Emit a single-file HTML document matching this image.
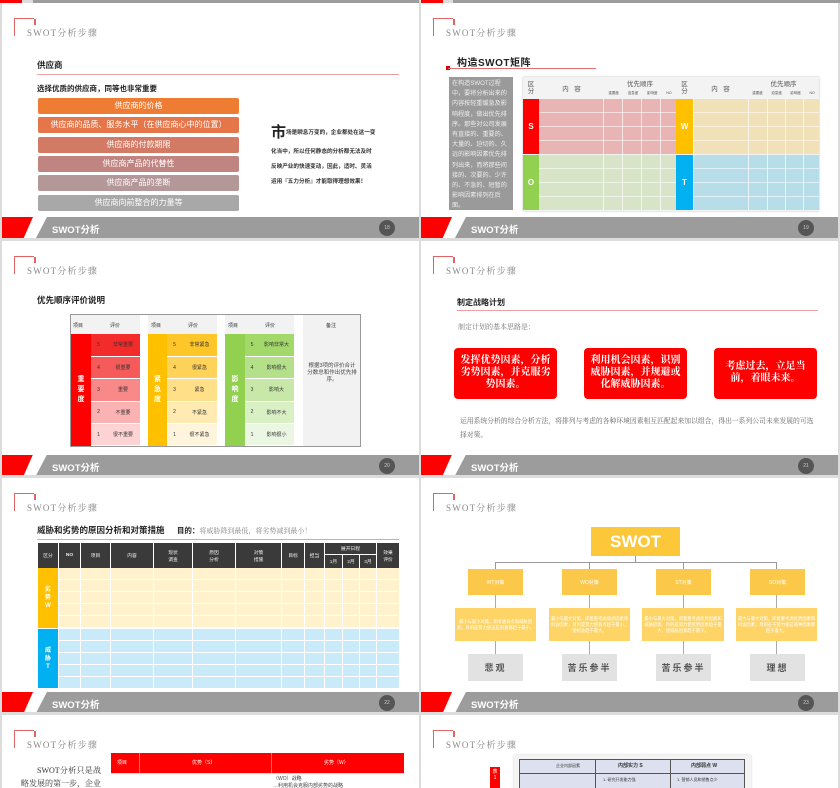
<!DOCTYPE html>
<html><head><meta charset="utf-8">
<style>
*{margin:0;padding:0;box-sizing:border-box}
html,body{width:840px;height:788px;overflow:hidden}
body{background:#dcdcdc;position:relative;font-family:"Liberation Sans","Noto Sans CJK SC",sans-serif}
.s{position:absolute;width:417px;height:238px;background:#fff;overflow:hidden}
.a{position:absolute}
.ft{position:absolute;left:0;top:217px;width:417px;height:21px}
.ft .r{position:absolute;left:0;top:0;width:31px;height:21px;background:#f00;clip-path:polygon(0 0,100% 0,70% 100%,0 100%)}
.ft .g{position:absolute;left:34px;top:0;width:383px;height:21px;background:#9c9c9c;clip-path:polygon(11px 0,100% 0,100% 100%,0 100%)}
.ft .g span{position:absolute;left:16px;top:5px;color:#fff;font-size:9.5px;font-weight:bold}
.ft .g i{position:absolute;left:343px;top:3px;width:16px;height:16px;border-radius:50%;background:#555;color:#ccc;font-size:5px;font-style:normal;text-align:center;line-height:16px}
.ft:after{content:"";position:absolute;left:0;top:21px;width:417px;height:3px;background:#ddd}
.hd{position:absolute;left:12px;top:18px;width:20px;height:18px;border-left:1.5px solid #e06464;border-top:1.5px solid #e06464}
.hd:after{content:"";position:absolute;right:-1.5px;top:0;width:1.5px;height:6px;background:#e06464}
.ht{position:absolute;left:25px;top:26px;font-size:9px;color:#888;letter-spacing:1.2px;font-family:"Liberation Serif","Noto Serif CJK SC",serif}
.b{font-weight:bold;color:#222}
.bar{position:absolute;left:36px;width:201px;height:16px;border-radius:2px;color:#fff;font-size:8px;text-align:center;line-height:16px}
.c{display:flex;align-items:center;justify-content:center;text-align:center}
</style></head><body>

<div class="a" style="left:0;top:0;width:22px;height:3px;background:#f00"></div>
<div class="a" style="left:33px;top:0;width:386px;height:3px;background:#9c9c9c"></div>
<div class="a" style="left:421px;top:0;width:22px;height:3px;background:#f00"></div>
<div class="a" style="left:453px;top:0;width:387px;height:3px;background:#9c9c9c"></div>

<!-- Slide 1 -->
<div class="s" style="left:2px;top:3px;height:235px">
 <div style="position:absolute;left:0;top:-3px;width:417px;height:238px">
 <div class="hd"></div><div class="ht">SWOT分析步骤</div>
 <div class="a b" style="left:35px;top:59px;font-size:8.5px">供应商</div>
 <div class="a" style="left:35px;top:74px;width:362px;height:1px;background:#e8a0a0"></div>
 <div class="a b" style="left:35px;top:83px;font-size:7.5px">选择优质的供应商，同等也非常重要</div>
 <div class="bar" style="top:98px;background:#ee7d33">供应商的价格</div>
 <div class="bar" style="top:117px;background:#e4764a">供应商的品质、服务水平（在供应商心中的位置）</div>
 <div class="bar" style="top:137px;background:#d27a64">供应商的付款期限</div>
 <div class="bar" style="top:156px;background:#c08580">供应商产品的代替性</div>
 <div class="bar" style="top:175px;background:#b49797">供应商产品的垄断</div>
 <div class="bar" style="top:195px;background:#a8a8a8">供应商向前整合的力量等</div>
 <div class="a b" style="left:269px;top:121px;font-size:15px">市</div>
 <div class="a b" style="left:284px;top:128px;font-size:5.6px;color:#333">场是瞬息万变的，企业都处在这一变</div>
 <div class="a b" style="left:269px;top:145px;font-size:5.6px;color:#333;line-height:15px">化当中，所以任何静态的分析都无法及时<br>反映产业的快速变动，因此，适时、灵活<br>运用『五力分析』才能取得理想效果！</div>
 <div class="ft"><div class="r"></div><div class="g"><span>SWOT分析</span><i>18</i></div></div>
 </div>
</div>

<!-- Slide 2 -->
<div class="s" style="left:421px;top:3px;height:235px">
 <div style="position:absolute;left:0;top:-3px;width:417px;height:238px">
 <div class="hd"></div><div class="ht">SWOT分析步骤</div>
 <div class="a b" style="left:36px;top:54px;font-size:10px;letter-spacing:.5px">构造SWOT矩阵</div>
 <div class="a" style="left:25px;top:66px;width:4px;height:4px;background:#d00"></div>
 <div class="a" style="left:27px;top:68px;width:148px;height:1px;background:#e07070"></div>
 <div class="a" style="left:28px;top:77px;width:64px;height:133px;background:#9a9a9a;color:#eee;font-size:6.1px;line-height:10.2px;padding:2px 3px;overflow:hidden">在构造SWOT过程中，要将分析出来的内容按轻重缓急及影响程度，做出优先排序。那些对公司发展有直接的、重要的、大量的、迫切的、久远的影响因素优先排列出来，而将那些间接的、次要的、少许的、不急的、短暂的影响因素排列在后面。</div>
 <div class="a" style="left:102px;top:77px;width:296px;height:134px;background:#f3f3f3;box-shadow:0 0 2px #bbb"></div>
 <div class="a c" style="left:102px;top:78px;width:16px;height:20px;font-size:6.5px;color:#555;line-height:7px">区<br>分</div>
 <div class="a c" style="left:118px;top:78px;width:65px;height:20px;font-size:6.5px;color:#555">内&nbsp;&nbsp;&nbsp;容</div>
 <div class="a" style="left:183px;top:78px;width:72px;font-size:6.5px;color:#555;text-align:center">优先顺序</div>
 <div class="a" style="left:183px;top:91px;width:72px;font-size:3.5px;color:#555;display:flex;justify-content:space-around">重要度<span>迫急度</span><span>影响度</span><span>NO</span></div>
 <div class="a c" style="left:255px;top:78px;width:17px;height:20px;font-size:6.5px;color:#555;line-height:7px">区<br>分</div>
 <div class="a c" style="left:272px;top:78px;width:55px;height:20px;font-size:6.5px;color:#555">内&nbsp;&nbsp;&nbsp;容</div>
 <div class="a" style="left:327px;top:78px;width:71px;font-size:6.5px;color:#555;text-align:center">优先顺序</div>
 <div class="a" style="left:327px;top:91px;width:71px;font-size:3.5px;color:#555;display:flex;justify-content:space-around">重要度<span>迫急度</span><span>影响度</span><span>NO</span></div>
 <div class="a c" style="left:102px;top:99px;width:16px;height:55px;background:#f00;color:#fff;font-weight:bold;font-size:8px">S</div>
 <div class="a" style="left:118px;top:99px;width:137px;height:55px;background:repeating-linear-gradient(#e8b4b4 0 13px,#f5dede 13px 14px)"></div>
 <div class="a c" style="left:255px;top:99px;width:17px;height:55px;background:#ffc000;color:#fff;font-weight:bold;font-size:8px">W</div>
 <div class="a" style="left:272px;top:99px;width:126px;height:55px;background:repeating-linear-gradient(#f1e1b9 0 13px,#faf1dc 13px 14px)"></div>
 <div class="a c" style="left:102px;top:155px;width:16px;height:55px;background:#92d050;color:#fff;font-weight:bold;font-size:8px">O</div>
 <div class="a" style="left:118px;top:155px;width:137px;height:55px;background:repeating-linear-gradient(#d8e4c8 0 13px,#eef3e7 13px 14px)"></div>
 <div class="a c" style="left:255px;top:155px;width:17px;height:55px;background:#00b0f0;color:#fff;font-weight:bold;font-size:8px">T</div>
 <div class="a" style="left:272px;top:155px;width:126px;height:55px;background:repeating-linear-gradient(#b7dde9 0 13px,#def0f5 13px 14px)"></div>
 <div class="a" style="left:118px;top:99px;width:280px;height:111px;background:linear-gradient(90deg,transparent 64px,#fff 64px 65px,transparent 65px 83px,#fff 83px 84px,transparent 84px 102px,#fff 102px 103px,transparent 103px 121px,#fff 121px 122px,transparent 122px 154px,#fff 154px 155px,transparent 155px 209px,#fff 209px 210px,transparent 210px 228px,#fff 228px 229px,transparent 229px 246px,#fff 246px 247px,transparent 247px 264px,#fff 264px 265px,transparent 265px);opacity:.7"></div>
 <div class="ft"><div class="r"></div><div class="g"><span>SWOT分析</span><i>19</i></div></div>
 </div>
</div>

<!-- Slide 3 -->
<div class="s" style="left:2px;top:241px;height:234px">
 <div style="position:absolute;left:0;top:-3.5px;width:417px;height:238px">
 <div class="hd"></div><div class="ht">SWOT分析步骤</div>
 <div class="a b" style="left:35px;top:56px;font-size:8.5px">优先顺序评价说明</div>
 <div class="a" style="left:68px;top:76px;width:291px;height:133px;border:1px solid #999;background:#fff"></div>
 <div class="a" style="left:69px;top:77px;width:289px;height:19px;background:#f2f2f2"></div>
 <div class="a" style="left:138px;top:77px;width:8px;height:131px;background:#fff"></div>
 <div class="a" style="left:215px;top:77px;width:8px;height:131px;background:#fff"></div>
 <div class="a" style="left:292px;top:77px;width:9px;height:131px;background:#fff"></div>
 <div class="a" style="left:301px;top:77px;width:57px;height:131px;background:#f2f2f2"></div>
 <div class="a" style="left:71px;top:84px;font-size:5px;color:#333">项目</div><div class="a" style="left:108px;top:84px;font-size:5px;color:#333">评价</div>
 <div class="a" style="left:149px;top:84px;font-size:5px;color:#333">项目</div><div class="a" style="left:186px;top:84px;font-size:5px;color:#333">评价</div>
 <div class="a" style="left:226px;top:84px;font-size:5px;color:#333">项目</div><div class="a" style="left:263px;top:84px;font-size:5px;color:#333">评价</div>
 <div class="a" style="left:324px;top:84px;font-size:5px;color:#333">备注</div>
 <div class="a c" style="left:304px;top:125px;width:52px;font-size:5.5px;color:#444;line-height:7px">根据3项的评价合计分数总和作出优先排序。</div>
 <div class="a c" style="left:69px;top:96px;width:20px;height:112px;background:#f00;color:#fff;font-size:7px;font-weight:bold;line-height:10px">重<br>要<br>度</div>
 <div class="a" style="left:89px;top:96px;width:49px;font-size:5px;color:#333">
  <div style="height:22.4px;background:#f42b2b;display:flex;align-items:center"><span style="width:15px;text-align:center">5</span><span style="flex:1;text-align:center">非常重要</span></div>
  <div style="height:22.4px;background:#f65a5a;display:flex;align-items:center;border-top:1px solid #fff"><span style="width:15px;text-align:center">4</span><span style="flex:1;text-align:center">很重要</span></div>
  <div style="height:22.4px;background:#f98888;display:flex;align-items:center;border-top:1px solid #fff"><span style="width:15px;text-align:center">3</span><span style="flex:1;text-align:center">重要</span></div>
  <div style="height:22.4px;background:#fbb2b2;display:flex;align-items:center;border-top:1px solid #fff"><span style="width:15px;text-align:center">2</span><span style="flex:1;text-align:center">不重要</span></div>
  <div style="height:22.4px;background:#fdd3d3;display:flex;align-items:center;border-top:1px solid #fff"><span style="width:15px;text-align:center">1</span><span style="flex:1;text-align:center">很不重要</span></div>
 </div>
 <div class="a c" style="left:146px;top:96px;width:19px;height:112px;background:#ffc000;color:#fff;font-size:7px;font-weight:bold;line-height:10px">紧<br>急<br>度</div>
 <div class="a" style="left:165px;top:96px;width:50px;font-size:5px;color:#333">
  <div style="height:22.4px;background:#ffc629;display:flex;align-items:center"><span style="width:15px;text-align:center">5</span><span style="flex:1;text-align:center">非常紧急</span></div>
  <div style="height:22.4px;background:#ffd35a;display:flex;align-items:center;border-top:1px solid #fff"><span style="width:15px;text-align:center">4</span><span style="flex:1;text-align:center">很紧急</span></div>
  <div style="height:22.4px;background:#ffdf88;display:flex;align-items:center;border-top:1px solid #fff"><span style="width:15px;text-align:center">3</span><span style="flex:1;text-align:center">紧急</span></div>
  <div style="height:22.4px;background:#ffeab2;display:flex;align-items:center;border-top:1px solid #fff"><span style="width:15px;text-align:center">2</span><span style="flex:1;text-align:center">不紧急</span></div>
  <div style="height:22.4px;background:#fff5dc;display:flex;align-items:center;border-top:1px solid #fff"><span style="width:15px;text-align:center">1</span><span style="flex:1;text-align:center">很不紧急</span></div>
 </div>
 <div class="a c" style="left:223px;top:96px;width:20px;height:112px;background:#92d050;color:#fff;font-size:7px;font-weight:bold;line-height:10px">影<br>响<br>度</div>
 <div class="a" style="left:243px;top:96px;width:49px;font-size:5px;color:#333">
  <div style="height:22.4px;background:#a3d86b;display:flex;align-items:center"><span style="width:14px;text-align:center">5</span><span style="flex:1;text-align:center">影响非常大</span></div>
  <div style="height:22.4px;background:#b5e08a;display:flex;align-items:center;border-top:1px solid #fff"><span style="width:14px;text-align:center">4</span><span style="flex:1;text-align:center">影响很大</span></div>
  <div style="height:22.4px;background:#c7e8a8;display:flex;align-items:center;border-top:1px solid #fff"><span style="width:14px;text-align:center">3</span><span style="flex:1;text-align:center">影响大</span></div>
  <div style="height:22.4px;background:#d9f0c5;display:flex;align-items:center;border-top:1px solid #fff"><span style="width:14px;text-align:center">2</span><span style="flex:1;text-align:center">影响不大</span></div>
  <div style="height:22.4px;background:#ebf7e2;display:flex;align-items:center;border-top:1px solid #fff"><span style="width:14px;text-align:center">1</span><span style="flex:1;text-align:center">影响很小</span></div>
 </div>
 <div class="ft"><div class="r"></div><div class="g"><span>SWOT分析</span><i>20</i></div></div>
 </div>
</div>

<!-- Slide 4 -->
<div class="s" style="left:421px;top:241px;height:234px">
 <div style="position:absolute;left:0;top:-3.5px;width:417px;height:238px">
 <div class="hd"></div><div class="ht">SWOT分析步骤</div>
 <div class="a b" style="left:36px;top:59px;font-size:8px">制定战略计划</div>
 <div class="a" style="left:36px;top:72px;width:361px;height:1px;background:#e8a0a0"></div>
 <div class="a" style="left:37px;top:84px;font-size:7px;color:#777;font-family:'Liberation Serif','Noto Serif CJK SC',serif">制定计划的基本思路是：</div>
 <div class="a c" style="left:33px;top:110px;width:103px;height:51px;background:#f00;border-radius:4px;color:#fff;font-size:10px;font-weight:bold;line-height:12px;padding:0 4px;font-family:'Liberation Serif','Noto Serif CJK SC',serif">发挥优势因素，分析劣势因素，并克服劣势因素。</div>
 <div class="a c" style="left:163px;top:110px;width:103px;height:51px;background:#f00;border-radius:4px;color:#fff;font-size:10px;font-weight:bold;line-height:12px;padding:0 4px;font-family:'Liberation Serif','Noto Serif CJK SC',serif">利用机会因素，识别威胁因素，并规避或化解威胁因素。</div>
 <div class="a c" style="left:293px;top:110px;width:103px;height:51px;background:#f00;border-radius:4px;color:#fff;font-size:10px;font-weight:bold;line-height:12px;padding:0 2px;font-family:'Liberation Serif','Noto Serif CJK SC',serif">考虑过去，立足当前，着眼未来。</div>
 <div class="a" style="left:39px;top:177px;width:360px;font-size:6.8px;color:#666;line-height:14px;font-family:'Liberation Serif','Noto Serif CJK SC',serif">运用系统分析的综合分析方法，将排列与考虑的各种环境因素相互匹配起来加以组合，得出一系列公司未来发展的可选择对策。</div>
 <div class="ft"><div class="r"></div><div class="g"><span>SWOT分析</span><i>21</i></div></div>
 </div>
</div>

<!-- Slide 5 -->
<div class="s" style="left:2px;top:478px;height:234px">
 <div style="position:absolute;left:0;top:-3px;width:417px;height:238px">
 <div class="hd"></div><div class="ht">SWOT分析步骤</div>
 <div class="a b" style="left:35px;top:49px;font-size:8.5px">威胁和劣势的原因分析和对策措施 <span style="margin-left:10px;font-size:7.5px">目的：</span><span style="font-weight:normal;color:#888;font-size:7px;font-family:'Liberation Serif','Noto Serif CJK SC',serif">将威胁降到最低，将劣势减到最小！</span></div>
 <div class="a" style="left:35px;top:64px;width:362px;height:1px;background:#e8a0a0"></div>
 <div class="a" style="left:36px;top:68px;width:361px;height:145px;background:#fff"></div>
 <div class="a" style="left:36px;top:93px;width:361px;height:60px;background:repeating-linear-gradient(#fff2cc 0 11px,#fff 11px 12px)"></div>
 <div class="a" style="left:36px;top:154px;width:361px;height:59px;background:repeating-linear-gradient(#c8eaf9 0 11px,#fff 11px 12px)"></div>
 <div class="a" style="left:36px;top:68px;width:361px;height:145px;background:linear-gradient(90deg,transparent 20px,#fff 20px 21px,transparent 21px 42px,#fff 42px 43px,transparent 43px 72px,#fff 72px 73px,transparent 73px 115px,#fff 115px 116px,transparent 116px 154px,#fff 154px 155px,transparent 155px 197px,#fff 197px 198px,transparent 198px 243px,#fff 243px 244px,transparent 244px 266px,#fff 266px 267px,transparent 267px 286px,#fff 286px 287px,transparent 287px 304px,#fff 304px 305px,transparent 305px 321px,#fff 321px 322px,transparent 322px 338px,#fff 338px 339px,transparent 339px)"></div>
 <div class="a" style="left:36px;top:68px;width:361px;height:25px;font-size:4.8px;color:#eee">
  <div class="a c" style="left:0;width:20px;height:25px;background:#3a3a3a">区分</div>
  <div class="a c" style="left:21px;width:21px;height:25px;background:#3a3a3a;font-weight:bold">NO</div>
  <div class="a c" style="left:43px;width:29px;height:25px;background:#3a3a3a">项目</div>
  <div class="a c" style="left:73px;width:42px;height:25px;background:#3a3a3a">内容</div>
  <div class="a c" style="left:116px;width:38px;height:25px;background:#3a3a3a">现状<br>调查</div>
  <div class="a c" style="left:155px;width:42px;height:25px;background:#3a3a3a">原因<br>分析</div>
  <div class="a c" style="left:198px;width:45px;height:25px;background:#3a3a3a">对策<br>措施</div>
  <div class="a c" style="left:244px;width:22px;height:25px;background:#3a3a3a">目标</div>
  <div class="a c" style="left:267px;width:19px;height:25px;background:#3a3a3a">担当</div>
  <div class="a c" style="left:287px;width:51px;height:11px;background:#3a3a3a">展开日程</div>
  <div class="a c" style="left:287px;top:12px;width:17px;height:13px;background:#3a3a3a">1月</div>
  <div class="a c" style="left:305px;top:12px;width:16px;height:13px;background:#3a3a3a">2月</div>
  <div class="a c" style="left:322px;top:12px;width:16px;height:13px;background:#3a3a3a">3月</div>
  <div class="a c" style="left:339px;width:22px;height:25px;background:#3a3a3a">效果<br>评价</div>
 </div>
 <div class="a c" style="left:36px;top:93px;width:20px;height:60px;background:#ffc000;color:#fff;font-size:6px;font-weight:bold;line-height:8px">劣<br>势<br>W</div>
 <div class="a c" style="left:36px;top:154px;width:20px;height:59px;background:#00b0f0;color:#fff;font-size:6px;font-weight:bold;line-height:8px">威<br>胁<br>T</div>
 <div class="ft"><div class="r"></div><div class="g"><span>SWOT分析</span><i>22</i></div></div>
 </div>
</div>

<!-- Slide 6 -->
<div class="s" style="left:421px;top:478px;height:234px">
 <div style="position:absolute;left:0;top:-3px;width:417px;height:238px">
 <div class="hd"></div><div class="ht">SWOT分析步骤</div>
 <div class="a c" style="left:170px;top:52px;width:89px;height:29px;background:#fcc83a;color:#fff;font-size:17px;font-weight:bold">SWOT</div>
 <div class="a" style="left:214px;top:81px;width:1px;height:6px;background:#999"></div>
 <div class="a" style="left:74px;top:87px;width:282px;height:1px;background:#999"></div>
 <div class="a" style="left:74px;top:87px;width:1px;height:7px;background:#999"></div>
 <div class="a" style="left:168px;top:87px;width:1px;height:7px;background:#999"></div>
 <div class="a" style="left:262px;top:87px;width:1px;height:7px;background:#999"></div>
 <div class="a" style="left:355px;top:87px;width:1px;height:7px;background:#999"></div>
 <div class="a c" style="left:47px;top:94px;width:55px;height:26px;background:#fcc84a;color:#fff;font-size:5px">WT对策</div>
 <div class="a c" style="left:141px;top:94px;width:55px;height:26px;background:#fcc84a;color:#fff;font-size:5px">WO对策</div>
 <div class="a c" style="left:235px;top:94px;width:55px;height:26px;background:#fcc84a;color:#fff;font-size:5px">ST对策</div>
 <div class="a c" style="left:329px;top:94px;width:55px;height:26px;background:#fcc84a;color:#fff;font-size:5px">SO对策</div>
 <div class="a" style="left:74px;top:120px;width:1px;height:59px;background:#aaa"></div>
 <div class="a" style="left:168px;top:120px;width:1px;height:59px;background:#aaa"></div>
 <div class="a" style="left:262px;top:120px;width:1px;height:59px;background:#aaa"></div>
 <div class="a" style="left:355px;top:120px;width:1px;height:59px;background:#aaa"></div>
 <div class="a c" style="left:34px;top:133px;width:81px;height:33px;background:#fed466;color:#fff;font-size:4.3px;line-height:6px;padding:1px">最小与最小对策，即考虑弱点和威胁因素，目的是努力使这些因素都趋于最小。</div>
 <div class="a c" style="left:128px;top:133px;width:81px;height:33px;background:#fed466;color:#fff;font-size:4.3px;line-height:6px;padding:1px">最小与最大对策，即着重考虑弱点因素和机会因素，目的是努力使弱点趋于最小，使机会趋于最大。</div>
 <div class="a c" style="left:221px;top:133px;width:82px;height:33px;background:#fed466;color:#fff;font-size:4.3px;line-height:6px;padding:1px">最小与最大对策，即着重考虑优势因素和威胁因素，目的是努力使优势因素趋于最大，使威胁因素趋于最小。</div>
 <div class="a c" style="left:315px;top:133px;width:81px;height:33px;background:#fed466;color:#fff;font-size:4.3px;line-height:6px;padding:1px">最大与最大对策，即着重考虑优势因素和机会因素，目的在于努力使这两种因素都趋于最大。</div>
 <div class="a c" style="left:47px;top:179px;width:55px;height:27px;background:#e2e2e2;color:#555;font-size:9px;font-weight:bold;letter-spacing:2px">悲观</div>
 <div class="a c" style="left:141px;top:179px;width:55px;height:27px;background:#e2e2e2;color:#555;font-size:9px;font-weight:bold;letter-spacing:2px">苦乐参半</div>
 <div class="a c" style="left:235px;top:179px;width:55px;height:27px;background:#e2e2e2;color:#555;font-size:9px;font-weight:bold;letter-spacing:2px">苦乐参半</div>
 <div class="a c" style="left:329px;top:179px;width:55px;height:27px;background:#e2e2e2;color:#555;font-size:9px;font-weight:bold;letter-spacing:2px">理想</div>
 <div class="ft"><div class="r"></div><div class="g"><span>SWOT分析</span><i>23</i></div></div>
 </div>
</div>

<!-- Slide 7 -->
<div class="s" style="left:2px;top:715px;height:73px">
 <div style="position:absolute;left:0;top:-3px;width:417px;height:76px;overflow:hidden">
 <div class="hd"></div><div class="ht">SWOT分析步骤</div>
 <div class="a" style="left:19px;top:52px;width:80px;font-size:8px;color:#333;line-height:13px;text-indent:16px;font-family:'Liberation Serif','Noto Serif CJK SC',serif;text-align:justify">SWOT分析只是战略发展的第一步，企业需要进一步找到内部要素</div>
 <div class="a" style="left:109px;top:41px;width:293px;height:20px;background:#f00"></div>
 <div class="a" style="left:137px;top:41px;width:1px;height:20px;background:#f66"></div>
 <div class="a" style="left:269px;top:41px;width:1px;height:20px;background:#f66"></div>
 <div class="a" style="left:115px;top:47px;font-size:5px;color:#fff">项目</div>
 <div class="a" style="left:190px;top:47px;font-size:5px;color:#fff">优势（S）</div>
 <div class="a" style="left:322px;top:47px;font-size:5px;color:#fff">劣势（W）</div>
 <div class="a" style="left:109px;top:61px;width:293px;height:1px;background:#ddd"></div>
 <div class="a" style="left:271px;top:64px;font-size:5px;color:#444;line-height:7px">（WO）战略<br>…利用机会克服内部劣势的战略</div>
 </div>
</div>

<!-- Slide 8 -->
<div class="s" style="left:421px;top:715px;height:73px">
 <div style="position:absolute;left:0;top:-3px;width:417px;height:76px;overflow:hidden">
 <div class="hd"></div><div class="ht">SWOT分析步骤</div>
 <div class="a" style="left:93px;top:43px;width:237px;height:40px;background:#f4f4f4;box-shadow:0 0 2px #ccc"></div>
 <div class="a" style="left:98px;top:47px;width:226px;height:40px;background:#dde0ee;border:1px solid #555"></div>
 <div class="a" style="left:98px;top:61px;width:226px;height:1px;background:#555"></div>
 <div class="a" style="left:174px;top:47px;width:1px;height:40px;background:#555"></div>
 <div class="a" style="left:249px;top:47px;width:1px;height:40px;background:#555"></div>
 <div class="a" style="left:135px;top:51px;font-size:4px;color:#333">企业内部因素</div>
 <div class="a" style="left:197px;top:50px;font-size:5px;color:#333;font-weight:bold">内部实力 S</div>
 <div class="a" style="left:270px;top:50px;font-size:5px;color:#333;font-weight:bold">内部弱点 W</div>
 <div class="a" style="left:182px;top:65px;font-size:4px;color:#333">1. 研究开发能力强</div>
 <div class="a" style="left:256px;top:65px;font-size:4px;color:#333">1. 营销人员和销售点少</div>
 <div class="a c" style="left:69px;top:55px;width:10px;height:30px;background:#f00;color:#fff;font-size:5px;line-height:6px;align-items:flex-start;padding-top:2px">表<br>1</div>
 </div>
</div>

</body></html>
